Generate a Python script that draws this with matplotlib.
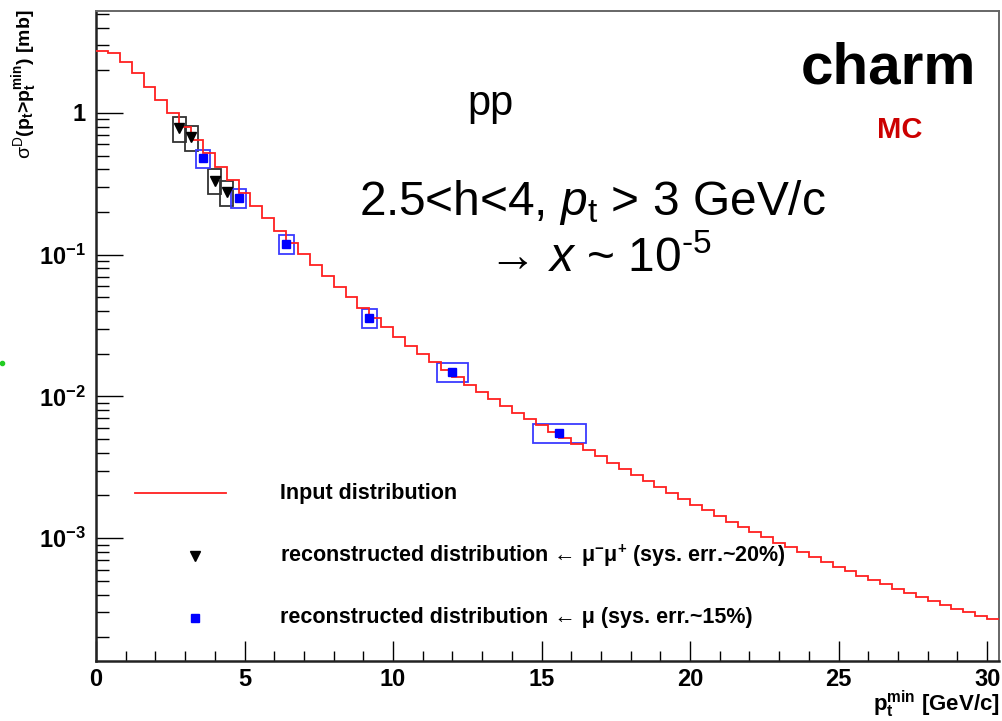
import numpy as np
import matplotlib.pyplot as plt
from matplotlib.patches import Rectangle
from matplotlib.lines import Line2D
from matplotlib.ticker import FixedLocator, NullFormatter

plt.rcParams['font.family'] = ['Liberation Sans', 'DejaVu Sans']
plt.rcParams['mathtext.fontset'] = 'custom'
plt.rcParams['mathtext.rm'] = 'Liberation Sans'
plt.rcParams['mathtext.it'] = 'Liberation Sans:italic'
plt.rcParams['mathtext.bf'] = 'Liberation Sans:bold'

# input distribution, sigma(pt > pt_min) in mb, bins of 0.4 GeV/c from 0
bin_width = 0.4
sigma_input = [2.754, 2.630, 2.291, 1.905, 1.535, 1.236, 0.9954, 0.8017, 0.6457, 0.5200,
               0.4188, 0.3373, 0.2716, 0.2213, 0.1811, 0.1479, 0.1216, 0.1012, 0.08433, 0.07047,
               0.05916, 0.04989, 0.04227, 0.03597, 0.03076, 0.02642, 0.02286, 0.01991, 0.01746, 0.01542,
               0.01365, 0.01211, 0.01076, 0.009594, 0.008570, 0.007691, 0.006918, 0.006237, 0.005636, 0.005105,
               0.004634, 0.004178, 0.003767, 0.003396, 0.003069, 0.002773, 0.002512, 0.002280, 0.002070, 0.001884,
               0.001718, 0.001567, 0.001432, 0.001309, 0.001199, 0.001102, 0.001012, 0.000931, 0.000859, 0.000793,
               0.000733, 0.000679, 0.000630, 0.000583, 0.000543, 0.000505, 0.000471, 0.000440, 0.000411, 0.000385,
               0.000361, 0.000338, 0.000318, 0.000299, 0.000282, 0.000267]
edges = np.arange(len(sigma_input) + 1) * bin_width

# reconstructed from mu- mu+ pairs
pt_mumu = [2.8, 3.2, 4.0, 4.4]
sigma_mumu = [0.78, 0.675, 0.333, 0.275]
dpt_mumu = [0.22, 0.22, 0.22, 0.22]
sys_mumu = 0.20

# reconstructed from single mu
pt_mu = [3.6, 4.8, 6.4, 9.2, 12.0, 15.6]
sigma_mu = [0.48, 0.252, 0.119, 0.0357, 0.0149, 0.00556]
dpt_mu = [0.24, 0.24, 0.25, 0.25, 0.52, 0.9]
sys_mu = 0.15

W, H = 1002, 721


def fx(x):
    return x / W


def fy(y):
    return 1 - y / H


fig = plt.figure(figsize=(W / 100, H / 100), dpi=100)
ax = fig.add_axes([fx(96), fy(661), fx(999) - fx(96), fy(11) - fy(661)])

ax.stairs(sigma_input, edges, color='#ff2020', lw=1.3, baseline=None, zorder=3)

for x, y, dx in zip(pt_mumu, sigma_mumu, dpt_mumu):
    ax.add_patch(Rectangle((x - dx, y * (1 - sys_mumu)), 2 * dx, y * 2 * sys_mumu,
                           fill=False, ec='#333333', lw=1.3, zorder=2))
for x, y, dx in zip(pt_mu, sigma_mu, dpt_mu):
    ax.add_patch(Rectangle((x - dx, y * (1 - sys_mu)), 2 * dx, y * 2 * sys_mu,
                           fill=False, ec='#3a3aff', lw=1.3, zorder=2))

ax.plot(pt_mumu, sigma_mumu, 'v', color='black', ms=7, zorder=4)
ax.plot(pt_mu, sigma_mu, 's', color='#0000ff', ms=6, mec='#0000ff', zorder=4)

ax.set_yscale('log')
ax.set_xlim(0, 30.4)
ax.set_ylim(1.358e-4, 5.245)

ax.set_xticks(range(0, 31, 5))
ax.set_xticklabels([str(v) for v in range(0, 31, 5)], fontsize=17, fontweight='bold')
ax.xaxis.set_minor_locator(FixedLocator(np.arange(0, 31, 1)))
ax.set_yticks([1e-3, 1e-2, 1e-1, 1])
ax.set_yticklabels([r'$\mathbf{10^{-3}}$', r'$\mathbf{10^{-2}}$', r'$\mathbf{10^{-1}}$', r'$\mathbf{1}$'],
                   fontsize=17)
minor_y = [m * 10.0 ** e for e in range(-4, 1) for m in range(2, 10)]
ax.yaxis.set_minor_locator(FixedLocator(minor_y))
ax.yaxis.set_minor_formatter(NullFormatter())

ax.tick_params(axis='x', which='major', direction='in', length=14.4, width=1, pad=5, top=False)
ax.tick_params(axis='x', which='minor', direction='in', length=7.2, width=1, top=False)
ax.tick_params(axis='y', which='major', direction='in', length=19.5, width=1, pad=7, right=False)
ax.tick_params(axis='y', which='minor', direction='in', length=9.7, width=1, right=False)

for s in ['left', 'bottom']:
    ax.spines[s].set_linewidth(1.8)
    ax.spines[s].set_color('#222222')
for s in ['top', 'right']:
    ax.spines[s].set_linewidth(1.4)
    ax.spines[s].set_color('#666666')

# axis titles
fig.text(fx(25), fy(10), r'$\mathrm{σ^{D}}$($\mathbf{p_{t}}$>$\mathbf{p_{t}^{min}}$) [mb]', rotation=90,
         ha='center', va='top', fontsize=14, fontweight='bold')
fig.text(fx(1000), fy(711), r'$\mathbf{p_{t}^{min}}$ [GeV/c]', ha='right', va='baseline',
         fontsize=16, fontweight='bold')

# annotations
fig.text(fx(888), fy(83), 'charm', ha='center', va='baseline', fontsize=42, fontweight='bold')
fig.text(fx(900), fy(138), 'MC', ha='center', va='baseline', fontsize=21, fontweight='bold', color='#cc0000')
fig.text(fx(490), fy(115), 'pp', ha='center', va='baseline', fontsize=30)
fig.text(fx(592), fy(215), r'2.5<h<4, $\mathit{p}_{\mathrm{t}}$ > 3 GeV/c', ha='center', va='baseline',
         fontsize=34.5)
fig.text(fx(600), fy(272), r'→ $\mathit{x}$ ~ 10$^{\text{-5}}$', ha='center', va='baseline', fontsize=34.5)

# legend
fig.add_artist(Line2D([fx(135), fx(226)], [fy(493), fy(493)], color='#ff2020', lw=1.3))
fig.add_artist(Line2D([fx(195)], [fy(556)], marker='v', color='black', ms=7, ls='none'))
fig.add_artist(Line2D([fx(195)], [fy(618)], marker='s', color='#0000ff', ms=6, ls='none'))
fig.text(fx(280), fy(493), 'Input distribution', ha='left', va='center', fontsize=15.5, fontweight='bold')
fig.text(fx(280), fy(556), r'reconstructed distribution ← μ$^{\mathbf{-}}$μ$^{\mathbf{+}}$ (sys. err.~20%)',
         ha='left', va='center', fontsize=15.5, fontweight='bold')
fig.text(fx(280), fy(617), 'reconstructed distribution ← μ (sys. err.~15%)',
         ha='left', va='center', fontsize=15.5, fontweight='bold')

fig.add_artist(Line2D([fx(2)], [fy(363)], marker='o', color='#22cc22', ms=3, ls='none'))

fig.savefig('out.png', dpi=100)
